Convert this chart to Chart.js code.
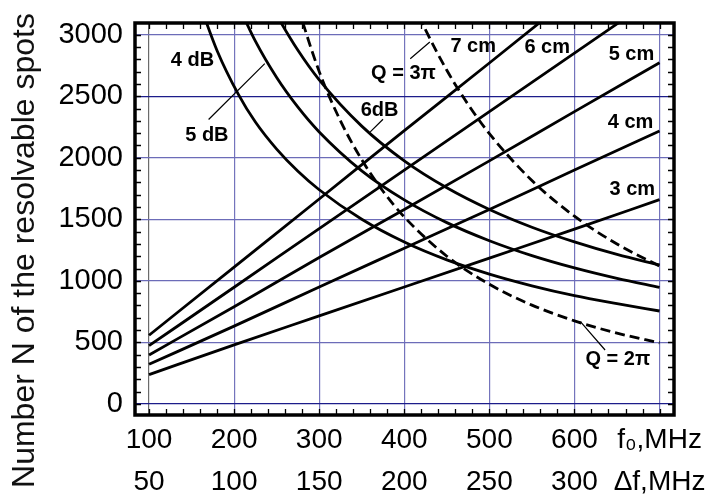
<!DOCTYPE html>
<html>
<head>
<meta charset="utf-8">
<script src="https://cdn.jsdelivr.net/npm/chart.js@4"></script>
<style>
    html, body { margin: 0; padding: 0; background: #fff; }
    #wrap { width: 722px; height: 501px; }
</style>
</head>
<body>
<div id="wrap"><canvas id="chart"></canvas></div>
<script>
// Axis ticks: f0 (MHz) on the first row, bandwidth Δf on the second row
const fTicks = [100, 200, 300, 400, 500, 600, 700];
const fTickLabels = ['100', '200', '300', '400', '500', '600', 'f₀,MHz'];
const dfTickLabels = ['50', '100', '150', '200', '250', '300', 'Δf,MHz'];
const nTicks = [0, 500, 1000, 1500, 2000, 2500, 3000];
const yTitle = 'Number N of the resolvable spots';

// Rising lines (cm)
const cmFreq = [100, 200, 300, 400, 500, 600, 700];
const cm3 = [238, 480, 715, 950, 1185, 1420, 1660];
const cm4 = [322, 632, 950, 1265, 1580, 1900, 2218];
const cm5 = [398, 790, 1190, 1580, 1975, 2375, 2772];
const cm6 = [473, 948, 1425, 1900, 2375, 2850, 3325];
const cm7 = [558, 1112, 1665, 2220, 2770, 3325, 3880];

// Falling curves (dB)
const db4Freq = [160, 180, 205, 225, 250, 275, 300, 350, 400, 450, 500, 550, 600, 650, 700];
const db4 = [3240, 2870, 2515, 2290, 2070, 1890, 1740, 1500, 1315, 1170, 1055, 960, 880, 815, 755];
const db5Freq = [200, 225, 250, 275, 300, 350, 400, 450, 500, 550, 600, 650, 700];
const db5 = [3315, 2947, 2652, 2411, 2210, 1894, 1658, 1473, 1326, 1205, 1105, 1020, 947];
const db6Freq = [240, 250, 275, 300, 350, 400, 450, 500, 550, 600, 650, 700];
const db6 = [3290, 3160, 2873, 2633, 2257, 1975, 1756, 1580, 1436, 1317, 1215, 1129];

// Dashed curves (Q)
const q2Freq = [270, 300, 325, 350, 375, 400, 450, 500, 550, 600, 650, 700];
const q2 = [3330, 2700, 2300, 1984, 1728, 1519, 1200, 972, 803, 675, 575, 496];
const q3Freq = [410, 425, 450, 475, 500, 550, 600, 650, 700];
const q3 = [3266, 3040, 2711, 2433, 2196, 1815, 1525, 1299, 1120];

// Curve labels and leader lines, in data units (f, N)
const notes = [
    { text: '4 dB', f: 151, n: 2792 },
    { text: '5 dB', f: 168, n: 2183 },
    { text: '6dB', f: 371, n: 2386 },
    { text: 'Q = 3π', f: 399, n: 2684 },
    { text: '7 cm', f: 481, n: 2908 },
    { text: '6 cm', f: 568, n: 2900 },
    { text: '5 cm', f: 667, n: 2840 },
    { text: '4 cm', f: 666, n: 2286 },
    { text: '3 cm', f: 668, n: 1742 },
    { text: 'Q = 2π', f: 651, n: 360 }
];
const leaders = [
    [170, 2311, 236, 2765],
    [375, 2313, 360, 2210],
    [407, 2805, 430, 2940],
    [607, 668, 636, 438]
];

function toPoints(xs, ys) {
    return xs.map((x, i) => ({ x: x, y: ys[i] }));
}

function curve(xs, ys, dashed) {
    return {
        data: toPoints(xs, ys),
        borderColor: '#000',
        borderWidth: 2.8,
        borderDash: dashed ? [10, 5] : [],
        pointRadius: 0,
        cubicInterpolationMode: 'monotone',
        fill: false
    };
}

const FONT = "'Liberation Sans', Arial, sans-serif";

// Frame, minor ticks, labels, y title
const decorations = {
    id: 'decorations',
    afterDatasetsDraw(chart) {
        const { ctx, chartArea: a, scales: { x, y } } = chart;
        ctx.save();

        // minor ticks pointing inward on all four sides
        ctx.strokeStyle = '#000';
        ctx.lineWidth = 1.3;
        ctx.beginPath();
        for (let n = 0; n <= 3000; n += 100) {
            const py = Math.round(y.getPixelForValue(n)) + 0.5;
            ctx.moveTo(a.left, py); ctx.lineTo(a.left + 6, py);
            ctx.moveTo(a.right, py); ctx.lineTo(a.right - 6, py);
        }
        for (let f = 100; f <= 700; f += 20) {
            const px = Math.round(x.getPixelForValue(f)) + 0.5;
            ctx.moveTo(px, a.bottom); ctx.lineTo(px, a.bottom - 6);
            ctx.moveTo(px, a.top); ctx.lineTo(px, a.top + 6);
        }
        ctx.stroke();

        // frame
        ctx.lineWidth = 3.5;
        ctx.strokeRect(a.left, a.top, a.right - a.left, a.bottom - a.top);

        // leader lines
        ctx.lineWidth = 1.2;
        ctx.beginPath();
        leaders.forEach(l => {
            ctx.moveTo(x.getPixelForValue(l[0]), y.getPixelForValue(l[1]));
            ctx.lineTo(x.getPixelForValue(l[2]), y.getPixelForValue(l[3]));
        });
        ctx.stroke();

        // curve labels
        ctx.fillStyle = '#000';
        ctx.font = 'bold 20px ' + FONT;
        ctx.textAlign = 'center';
        ctx.textBaseline = 'middle';
        notes.forEach(nt => {
            ctx.fillText(nt.text, x.getPixelForValue(nt.f), y.getPixelForValue(nt.n));
        });

        // y axis title
        ctx.fillStyle = '#111';
        ctx.font = '32px ' + FONT;
        ctx.translate(25, chart.height / 2);
        ctx.rotate(-Math.PI / 2);
        ctx.fillText(yTitle, 0, 0);

        ctx.restore();
    }
};

function initChart() {
    const ctx = document.getElementById('chart').getContext('2d');

    new Chart(ctx, {
        type: 'line',
        data: {
            datasets: [
                curve(cmFreq, cm3), curve(cmFreq, cm4), curve(cmFreq, cm5),
                curve(cmFreq, cm6), curve(cmFreq, cm7),
                curve(db4Freq, db4), curve(db5Freq, db5), curve(db6Freq, db6),
                curve(q2Freq, q2, true), curve(q3Freq, q3, true)
            ]
        },
        options: {
            responsive: true,
            maintainAspectRatio: false,
            animation: false,
            devicePixelRatio: 1,
            layout: { padding: { top: 23, right: 48, left: 0, bottom: 0 } },
            plugins: {
                legend: { display: false },
                tooltip: { enabled: false }
            },
            scales: {
                x: {
                    type: 'linear',
                    min: 83.5,
                    max: 717,
                    afterBuildTicks: s => { s.ticks = fTicks.map(v => ({ value: v })); },
                    afterFit: s => { s.height = 86; s.paddingLeft = 0; s.paddingRight = 0; },
                    border: { display: false },
                    grid: {
                        drawTicks: false,
                        lineWidth: 1.2,
                        color: c => c.tick && c.tick.value === 100 ? '#6a6a6a' : '#7474bc'
                    },
                    ticks: {
                        padding: 4,
                        maxRotation: 0,
                        autoSkip: false,
                        color: '#000',
                        font: { family: FONT, size: 28, lineHeight: 1.5 },
                        callback: (v, i) => [fTickLabels[i], dfTickLabels[i]]
                    }
                },
                y: {
                    min: -90,
                    max: 3095,
                    afterBuildTicks: s => { s.ticks = nTicks.map(v => ({ value: v })); },
                    afterFit: s => { s.width = 135; s.paddingTop = 0; s.paddingBottom = 0; },
                    border: { display: false },
                    grid: {
                        drawTicks: false,
                        lineWidth: 1.2,
                        color: c => c.tick && (c.tick.value === 0 || c.tick.value === 2500) ? '#1c1c8a' : '#6c6cb8'
                    },
                    ticks: {
                        padding: 12,
                        color: '#000',
                        font: { family: FONT, size: 29 },
                        callback: (v, i) => String(nTicks[i])
                    }
                }
            }
        },
        plugins: [decorations]
    });
}

document.addEventListener('DOMContentLoaded', initChart);
</script>
</body>
</html>
